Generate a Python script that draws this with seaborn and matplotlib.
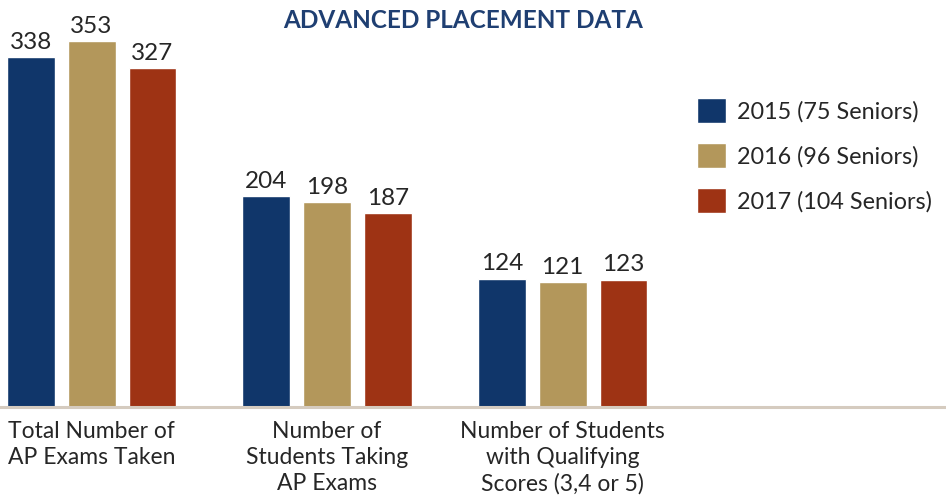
import pandas as pd
import seaborn as sns
import matplotlib.pyplot as plt

# Datos del gráfico
categorias = ['Total Number of\nAP Exams Taken',
              'Number of\nStudents Taking\nAP Exams',
              'Number of Students\nwith Qualifying\nScores (3,4 or 5)']
anios = ['2015 (75 Seniors)', '2016 (96 Seniors)', '2017 (104 Seniors)']
valores_2015 = [338, 204, 124]
valores_2016 = [353, 198, 121]
valores_2017 = [327, 187, 123]
colores = ['#10366A', '#B3975B', '#9E3314']

# Tabla larga para seaborn
data = pd.DataFrame({
    'Categoria': categorias * 3,
    'Anio': [anios[0]] * 3 + [anios[1]] * 3 + [anios[2]] * 3,
    'Valor': valores_2015 + valores_2016 + valores_2017,
})

sns.set_style('white')
plt.rcParams['font.family'] = ['Lato', 'DejaVu Sans']
texto = '#262626'

fig = plt.figure(figsize=(9.46, 4.99), dpi=100)
ax = fig.add_axes([0, 92 / 499, 1, 407 / 499])

sns.barplot(data=data, x='Categoria', y='Valor', hue='Anio',
            palette=colores, width=0.775, gap=0.214, ax=ax, saturation=1)

ax.set_ylim(0, 393)
ax.set_xlim(-0.389, 3.628)

for cont in ax.containers:
    ax.bar_label(cont, padding=3, fontsize=17.5, color=texto)

for s in ['top', 'right', 'left']:
    ax.spines[s].set_visible(False)
ax.spines['bottom'].set_color('#D5CBBF')
ax.spines['bottom'].set_linewidth(2.2)
ax.set_yticks([])
ax.set_xlabel('')
ax.set_ylabel('')
ax.tick_params(axis='x', length=0, pad=10, labelsize=16.5, labelcolor=texto)
plt.setp(ax.get_xticklabels(), linespacing=1.3)

handles, labels = ax.get_legend_handles_labels()
ax.legend(handles, labels, loc='upper left', bbox_to_anchor=(697 / 946, 1 - 98 / 499),
          bbox_transform=fig.transFigure, frameon=False, fontsize=16.8,
          handlelength=1.25, handleheight=1.25, handletextpad=0.45,
          labelspacing=0.88, borderpad=0, borderaxespad=0, labelcolor=texto)

fig.text(463 / 946, 1 - 20.5 / 499, 'ADVANCED PLACEMENT DATA', ha='center', va='center',
         fontsize=17.5, fontweight='bold', color='#1F3F72')

plt.savefig('out.png', dpi=100)
